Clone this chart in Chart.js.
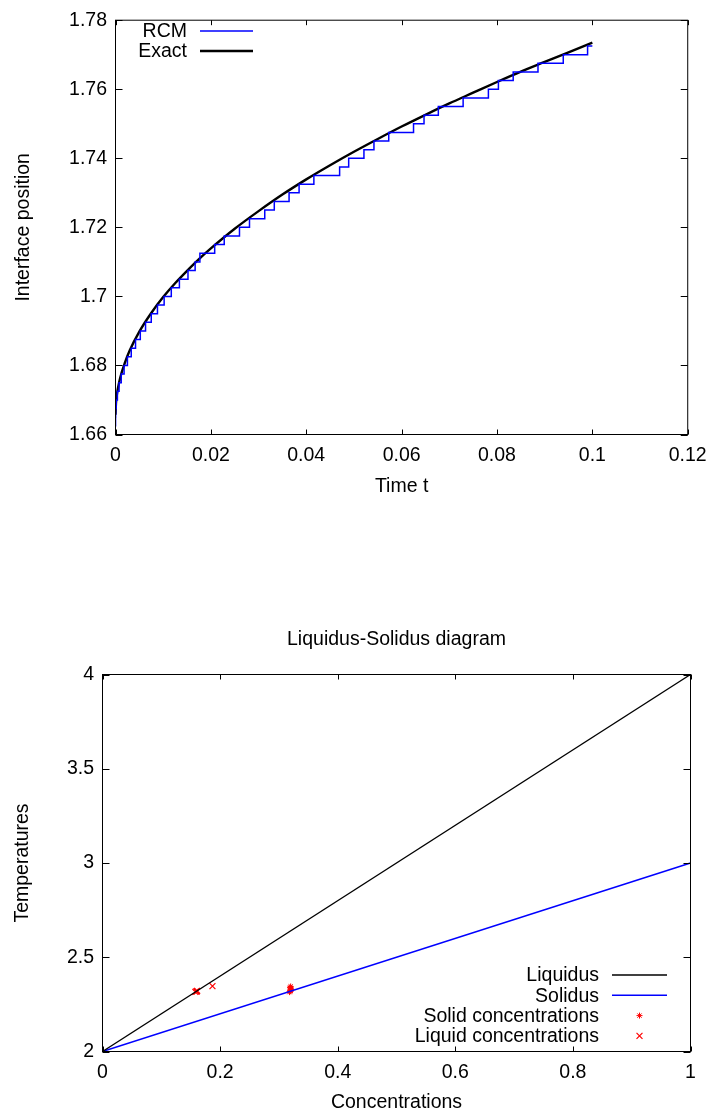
<!DOCTYPE html>
<html>
<head>
<meta charset="utf-8">
<title>RCM interface / Liquidus-Solidus</title>
<script src="https://cdn.jsdelivr.net/npm/chart.js@4.4.0/dist/chart.umd.min.js"></script>
<style>
  html, body { margin: 0; padding: 0; background: #fff; }
  body { width: 716px; height: 1117px; position: relative; overflow: hidden; }
  canvas { position: absolute; left: 0; }
  #interfaceChart { top: 0; }
  #diagramChart { top: 600px; }
</style>
</head>
<body>
<canvas id="interfaceChart" width="716" height="510"></canvas>
<canvas id="diagramChart" width="716" height="517"></canvas>
<script>
// --- interface position vs time ---
const exactT = [0, 0.0001, 0.0003, 0.0005, 0.001, 0.002, 0.003, 0.005, 0.0075, 0.01, 0.0125, 0.015, 0.0175, 0.02,
  0.025, 0.03, 0.035, 0.04, 0.045, 0.05, 0.055, 0.06, 0.065, 0.07, 0.075, 0.08, 0.085, 0.09, 0.095, 0.1];
const exactPos = [1.6657, 1.6691, 1.6716, 1.6733, 1.6765, 1.6809, 1.6844, 1.6898, 1.6952, 1.6998, 1.7038, 1.7074, 1.7108, 1.7139,
  1.7196, 1.7247, 1.7295, 1.7339, 1.738, 1.7419, 1.7456, 1.7492, 1.7526, 1.7559, 1.759, 1.7621, 1.7651, 1.7679, 1.7707, 1.7735];

// RCM staircase: time of each jump and the position after it
const rcmT = [0, 0.00001, 0.00003, 0.00016, 0.0004, 0.00075, 0.0012, 0.0018, 0.0025, 0.0033, 0.0042, 0.0052, 0.0063,
  0.0075, 0.0088, 0.0102, 0.0117, 0.0134, 0.0152, 0.0167, 0.0177, 0.0208, 0.0228, 0.026, 0.0281, 0.0313, 0.0333,
  0.0364, 0.0385, 0.0416, 0.047, 0.0489, 0.0521, 0.0542, 0.0573, 0.0625, 0.0647, 0.0677, 0.0729, 0.0782, 0.0803,
  0.0834, 0.0886, 0.0939, 0.099, 0.1];
const rcmPos = [1.6625, 1.665, 1.6675, 1.67, 1.6725, 1.675, 1.6775, 1.68, 1.6825, 1.685, 1.6875, 1.69, 1.6925,
  1.695, 1.6975, 1.7, 1.7025, 1.705, 1.7075, 1.71, 1.7125, 1.715, 1.7175, 1.72, 1.7225, 1.725, 1.7275,
  1.73, 1.7325, 1.735, 1.7375, 1.74, 1.7425, 1.745, 1.7475, 1.75, 1.7525, 1.755, 1.7575, 1.76, 1.7625,
  1.765, 1.7675, 1.77, 1.7725, 1.7725];

const timeTicks = [0, 0.02, 0.04, 0.06, 0.08, 0.1, 0.12];
const timeTickLabels = ['0', '0.02', '0.04', '0.06', '0.08', '0.1', '0.12'];
const posTicks = [1.66, 1.68, 1.7, 1.72, 1.74, 1.76, 1.78];
const posTickLabels = ['1.66', '1.68', '1.7', '1.72', '1.74', '1.76', '1.78'];

// --- liquidus / solidus diagram ---
const liquidusC = [0, 1];
const liquidusT = [2, 4];
const solidusC = [0, 1];
const solidusT = [2, 3];
const solidC = [0.318, 0.319, 0.32, 0.32, 0.321, 0.32, 0.319, 0.32];
const solidT = [2.315, 2.319, 2.322, 2.326, 2.33, 2.335, 2.34, 2.345];
const liquidC = [0.158, 0.16, 0.161, 0.16, 0.187];
const liquidT = [2.316, 2.32, 2.322, 2.318, 2.347];

const concTicks = [0, 0.2, 0.4, 0.6, 0.8, 1];
const concTickLabels = ['0', '0.2', '0.4', '0.6', '0.8', '1'];
const tempTicks = [2, 2.5, 3, 3.5, 4];
const tempTickLabels = ['2', '2.5', '3', '3.5', '4'];

const FONT = '"Liberation Sans", Arial, Helvetica, sans-serif';

function xy(xs, ys) {
  return xs.map(function (x, i) { return { x: x, y: ys[i] }; });
}
function fixedTicks(values) {
  return function (scale) {
    scale.ticks = values.map(function (v) { return { value: v }; });
  };
}

// full box + inward ticks on all four sides (gnuplot look)
const framePlugin = {
  id: 'frame',
  afterDatasetsDraw: function (chart, args, opts) {
    const ctx = chart.ctx;
    const a = chart.chartArea;
    const sx = chart.scales.x, sy = chart.scales.y;
    ctx.save();
    ctx.strokeStyle = '#000';
    ctx.lineWidth = 1;
    ctx.strokeRect(a.left, a.top, a.right - a.left, a.bottom - a.top);
    ctx.beginPath();
    sx.ticks.forEach(function (t) {
      const px = Math.round(sx.getPixelForValue(t.value)) + 0.5;
      ctx.moveTo(px, a.bottom); ctx.lineTo(px, a.bottom - opts.xTick);
      ctx.moveTo(px, a.top); ctx.lineTo(px, a.top + opts.xTick);
    });
    sy.ticks.forEach(function (t) {
      const py = Math.round(sy.getPixelForValue(t.value)) + 0.5;
      ctx.moveTo(a.left, py); ctx.lineTo(a.left + opts.yTick, py);
      ctx.moveTo(a.right, py); ctx.lineTo(a.right - opts.yTick, py);
    });
    ctx.stroke();
    ctx.restore();
  }
};

// key: right-aligned text, sample to its right
const keyPlugin = {
  id: 'key',
  afterDatasetsDraw: function (chart, args, opts) {
    const ctx = chart.ctx;
    ctx.save();
    ctx.font = opts.size + 'px ' + FONT;
    ctx.fillStyle = '#000';
    ctx.textAlign = 'right';
    ctx.textBaseline = 'middle';
    chart.data.datasets.forEach(function (ds, i) {
      const y = opts.top + i * opts.rowGap;
      ctx.fillText(ds.label, opts.textRight, y + 1);
      ctx.strokeStyle = ds.borderColor;
      if (ds.showLine) {
        ctx.lineWidth = ds.borderWidth;
        ctx.beginPath();
        ctx.moveTo(opts.sampleLeft, y);
        ctx.lineTo(opts.sampleRight, y);
        ctx.stroke();
      } else {
        ctx.lineWidth = ds.pointBorderWidth;
        Chart.helpers.drawPoint(ctx, {
          pointStyle: ds.pointStyle, radius: ds.pointRadius, rotation: 0, borderWidth: ds.pointBorderWidth
        }, (opts.sampleLeft + opts.sampleRight) / 2, y);
      }
    });
    ctx.restore();
  }
};

document.addEventListener('DOMContentLoaded', function () {
  Chart.defaults.font.family = FONT;
  Chart.defaults.font.size = 19.5;
  Chart.defaults.color = '#000';
  Chart.defaults.animation = false;

  new Chart(document.getElementById('interfaceChart'), {
    type: 'scatter',
    data: {
      datasets: [
        {
          label: 'RCM',
          data: xy(rcmT, rcmPos),
          showLine: true,
          stepped: 'before',
          borderColor: '#0000ff',
          borderWidth: 1.5,
          pointRadius: 0
        },
        {
          label: 'Exact',
          data: xy(exactT, exactPos),
          showLine: true,
          cubicInterpolationMode: 'monotone',
          borderColor: '#000000',
          borderWidth: 2.4,
          pointRadius: 0
        }
      ]
    },
    options: {
      responsive: false,
      devicePixelRatio: 1,
      layout: { padding: { top: 14.5, right: 25.5, left: 0, bottom: 0 } },
      scales: {
        x: {
          type: 'linear', min: 0, max: 0.12,
          afterBuildTicks: fixedTicks(timeTicks),
          afterFit: function (s) { s.height = 75.5; },
          grid: { display: false, drawTicks: false },
          border: { display: false },
          ticks: { padding: 9.3, autoSkip: false, maxRotation: 0,
            callback: function (v, i) { return timeTickLabels[i]; } },
          title: { display: true, text: 'Time t', padding: { top: 0, bottom: 11.3 } }
        },
        y: {
          type: 'linear', min: 1.66, max: 1.78,
          afterBuildTicks: fixedTicks(posTicks),
          afterFit: function (s) { s.width = 115.5; },
          grid: { display: false, drawTicks: false },
          border: { display: false },
          ticks: { padding: 8.5, autoSkip: false,
            callback: function (v, i) { return posTickLabels[i]; } },
          title: { display: true, text: 'Interface position', padding: { top: 12.3, bottom: 0 } }
        }
      },
      plugins: {
        legend: { display: false },
        tooltip: { enabled: false },
        frame: { xTick: 5, yTick: 7 },
        key: { size: 19.5, textRight: 187, sampleLeft: 200, sampleRight: 253, top: 31, rowGap: 20 }
      }
    },
    plugins: [framePlugin, keyPlugin]
  });

  new Chart(document.getElementById('diagramChart'), {
    type: 'scatter',
    data: {
      datasets: [
        {
          label: 'Liquidus',
          data: xy(liquidusC, liquidusT),
          showLine: true,
          borderColor: '#000000',
          borderWidth: 1.3,
          pointRadius: 0
        },
        {
          label: 'Solidus',
          data: xy(solidusC, solidusT),
          showLine: true,
          borderColor: '#0000ff',
          borderWidth: 1.5,
          pointRadius: 0
        },
        {
          label: 'Solid concentrations',
          data: xy(solidC, solidT),
          showLine: false,
          borderColor: '#ff0000',
          pointStyle: 'star',
          pointRadius: 3,
          pointBorderWidth: 1,
          pointBorderColor: '#ff0000'
        },
        {
          label: 'Liquid concentrations',
          data: xy(liquidC, liquidT),
          showLine: false,
          borderColor: '#ff0000',
          pointStyle: 'crossRot',
          pointRadius: 4.2,
          pointBorderWidth: 1.2,
          pointBorderColor: '#ff0000'
        }
      ]
    },
    options: {
      responsive: false,
      devicePixelRatio: 1,
      layout: { padding: { top: 0, right: 25.5, left: 0, bottom: 0 } },
      scales: {
        x: {
          type: 'linear', min: 0, max: 1,
          afterBuildTicks: fixedTicks(concTicks),
          afterFit: function (s) { s.height = 65.5; },
          grid: { display: false, drawTicks: false },
          border: { display: false },
          ticks: { padding: 9.3, autoSkip: false, maxRotation: 0,
            callback: function (v, i) { return concTickLabels[i]; } },
          title: { display: true, text: 'Concentrations', padding: { top: 0, bottom: 2.3 } }
        },
        y: {
          type: 'linear', min: 2, max: 4,
          afterBuildTicks: fixedTicks(tempTicks),
          afterFit: function (s) { s.width = 102.5; },
          grid: { display: false, drawTicks: false },
          border: { display: false },
          ticks: { padding: 8.5, autoSkip: false,
            callback: function (v, i) { return tempTickLabels[i]; } },
          title: { display: true, text: 'Temperatures', padding: { top: 11.3, bottom: 0 } }
        }
      },
      plugins: {
        legend: { display: false },
        tooltip: { enabled: false },
        title: {
          display: true, text: 'Liquidus-Solidus diagram', fullSize: false,
          font: { size: 19.5, weight: 'normal' }, padding: { top: 28.3, bottom: 22.8 }
        },
        frame: { xTick: 5, yTick: 7 },
        key: { size: 19.5, textRight: 599, sampleLeft: 612, sampleRight: 667, top: 375, rowGap: 20.3 }
      }
    },
    plugins: [framePlugin, keyPlugin]
  });
});
</script>
</body>
</html>
